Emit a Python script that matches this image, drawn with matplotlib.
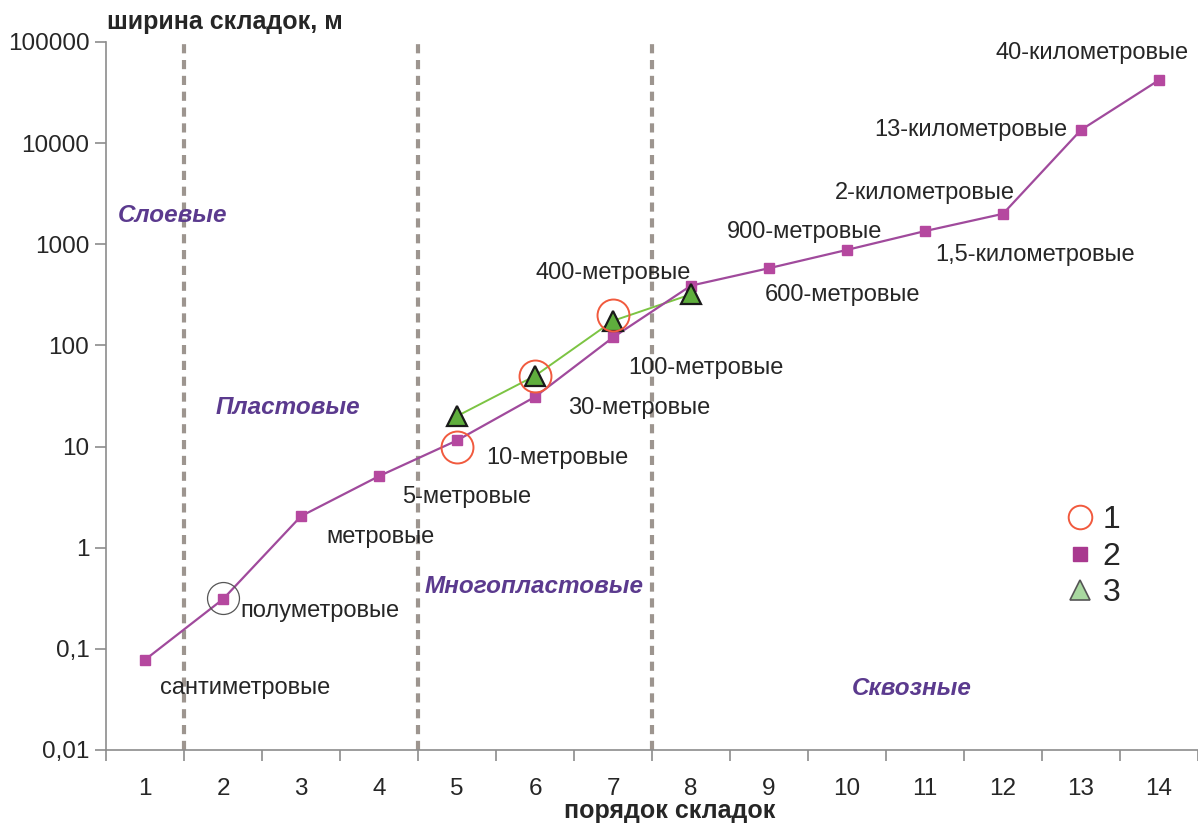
import matplotlib
matplotlib.use("Agg")
import matplotlib.pyplot as plt
from matplotlib.lines import Line2D
from matplotlib.ticker import FixedLocator, NullFormatter

plt.rcParams['font.family'] = ['Liberation Sans', 'DejaVu Sans']

# ---- data ----
orders = [1, 2, 3, 4, 5, 6, 7, 8, 9, 10, 11, 12, 13, 14]
widths2 = [0.078, 0.31, 2.05, 5.1, 11.5, 31, 120, 390, 580, 880, 1350, 2000, 13500, 42000]
orders3 = [5, 6, 7, 8]
widths3 = [20, 50, 175, 320]
orders1 = [5, 6, 7]
widths1 = [10, 50, 200]
order_half = [2]
width_half = [0.32]
boundaries = [1.5, 4.5, 7.5]
yticks = [0.01, 0.1, 1, 10, 100, 1000, 10000, 100000]
ytick_labels = ['0,01', '0,1', '1', '10', '100', '1000', '10000', '100000']

labels = ['сантиметровые', 'полуметровые', 'метровые', '5-метровые', '10-метровые',
          '30-метровые', '100-метровые', '400-метровые', '600-метровые', '900-метровые',
          '1,5-километровые', '2-километровые', '13-километровые', '40-километровые']
label_pos = [(1.19, 0.041), (2.22, 0.237), (3.32, 1.28), (4.29, 3.18), (5.37, 7.7),
             (6.42, 24.2), (7.19, 60), (6.0, 522), (8.95, 316), (8.46, 1330),
             (11.13, 787), (9.85, 3230), (10.35, 13600), (11.9, 78300)]
regions = ['Слоевые', 'Пластовые', 'Многопластовые', 'Сквозные']
region_pos = [(0.65, 1915), (1.90, 24.2), (4.59, 0.41), (10.06, 0.041)]

# ---- figure ----
fig = plt.figure(figsize=(11.98, 8.23), dpi=100)
ax = fig.add_axes([0.0885, 0.0887, 0.9115, 0.8603])
ax.set_yscale('log')
ax.set_ylim(0.01, 100000)
ax.set_xlim(0.5, 14.5)

purple = '#a04a9c'
sq_col = '#b5489f'
green_line = '#7cc443'
green_fill = '#5fae3d'
red = '#f15a3e'
txt = '#262626'
spine = '#8c8c8c'

for b in boundaries:
    ax.axvline(b, color='#9d958f', lw=3, ls=(0, (2.2, 1.6)), zorder=1)

ax.plot(orders, widths2, color=purple, lw=1.6, marker='s', ms=7,
        mfc=sq_col, mec=sq_col, zorder=3)
ax.plot(orders3, widths3, color=green_line, lw=1.4, zorder=2)
ax.plot(orders3, widths3, ls='none', marker='^', ms=14, mfc=green_fill,
        mec='#1a1a1a', mew=1.6, zorder=4)
ax.plot(orders1, widths1, ls='none', marker='o', ms=23, mfc='none',
        mec=red, mew=1.4, zorder=5)
ax.plot(order_half, width_half, ls='none', marker='o', ms=23, mfc='none',
        mec='#555555', mew=0.9, zorder=5)

for s, (x, y) in zip(labels, label_pos):
    ax.text(x, y, s, fontsize=17, color=txt, ha='left', va='center', zorder=6)
for s, (x, y) in zip(regions, region_pos):
    ax.text(x, y, s, fontsize=17.5, color='#5b3a8e', fontweight='bold',
            fontstyle='italic', ha='left', va='center', zorder=6)

# axes styling
for side in ['top', 'right']:
    ax.spines[side].set_visible(False)
for side in ['left', 'bottom']:
    ax.spines[side].set_color(spine)
    ax.spines[side].set_linewidth(1.2)

ax.yaxis.set_major_locator(FixedLocator(yticks))
ax.set_yticklabels(ytick_labels)
ax.yaxis.set_minor_locator(FixedLocator([]))
ax.tick_params(axis='y', which='major', length=8, color=spine, width=1.2,
               labelsize=17.5, labelcolor=txt, pad=4)

ax.set_xticks(orders)
ax.set_xticklabels([str(o) for o in orders])
ax.xaxis.set_minor_locator(FixedLocator([o + 0.5 for o in [0] + orders]))
ax.xaxis.set_minor_formatter(NullFormatter())
ax.tick_params(axis='x', which='major', length=0, labelsize=17.5,
               labelcolor=txt, pad=20)
ax.tick_params(axis='x', which='minor', length=8, color=spine, width=1.2)

fig.text(0.089, 0.973, 'ширина складок, м', fontsize=18, fontweight='bold',
         color=txt, ha='left', va='center')
fig.text(0.559, 0.014, 'порядок складок', fontsize=18, fontweight='bold',
         color=txt, ha='center', va='center')

handles = [
    Line2D([], [], ls='none', marker='o', ms=17, mfc='none', mec=red, mew=1.4),
    Line2D([], [], ls='none', marker='s', ms=10, mfc='#a9398f', mec='#a9398f'),
    Line2D([], [], ls='none', marker='^', ms=15, mfc='#a8d8a0', mec='#555555', mew=1.2),
]
ax.legend(handles, ['1', '2', '3'], loc='center', bbox_to_anchor=(0.902, 0.273),
          frameon=False, fontsize=23, handletextpad=0.1, labelspacing=0.2,
          handlelength=1.2, labelcolor=txt)

fig.savefig('out.png', dpi=100)
